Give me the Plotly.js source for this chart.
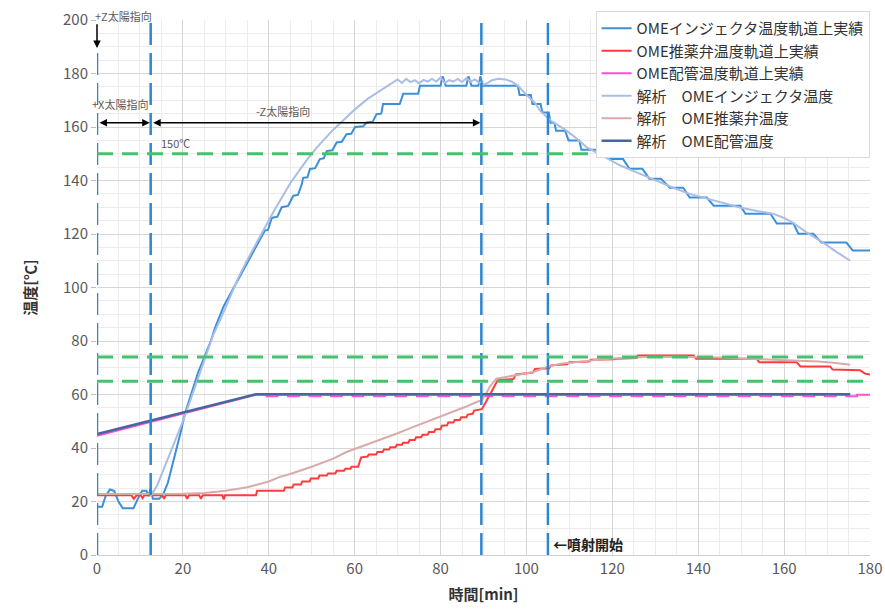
<!DOCTYPE html>
<html>
<head>
<meta charset="utf-8">
<script src="https://cdn.plot.ly/plotly-3.0.1.min.js"></script>
<style>html,body{margin:0;padding:0;background:#fff;}#chart{width:885px;height:614px;}</style>
</head>
<body>
<div id="chart"></div>
<script>
// ---- Series names ----
const seriesNames = [
  "OMEインジェクタ温度軌道上実績",
  "OME推薬弁温度軌道上実績",
  "OME配管温度軌道上実績",
  "解析　OMEインジェクタ温度",
  "解析　OME推薬弁温度",
  "解析　OME配管温度"
];

// ---- OME injector, flight data ----
const injActT = [0,1.2,2,3,4,5,6,8.5,9.5,10.5,11.5,12,12.5,13,14.5,15.5,16.5,17.5,18.5,19.5,20.5,21.5,22.5,23.5,24.5,25.5,26.5,27.5,28.5,29.5,30.5,31.5,32.5,33.5,34.5,35.5,36.5,37.5,38.5,39.1,39.8,40.7,42,43,44.5,45.7,46.8,47.7,48,49,49.6,50.8,51.9,52.8,53.5,54.8,55.8,57,58.1,59.2,60.1,62,62.8,64.2,65.1,66.2,66.6,70.5,71.3,74.8,75.2,80,80.5,81.2,86,86.5,87.2,88.8,89.3,89.8,98,98.4,101,101.4,103.3,103.7,105.2,105.6,106.5,106.9,109,109.8,112.3,112.8,116.3,117,119,119.4,122.5,124,127,128.6,131.3,133.4,136.5,138,142,143.6,149.8,151,156.8,158.3,162.2,163.3,166.8,168.7,174.5,176,180];
const injActV = [18,18,22,24.5,24,20,17.5,17.5,21,24,24,22,25,21,21,23,27,33,39,46,53,58,63,68,72,76,80,85,89,93,96,99,102,105,108,111,114,117,119.5,121.3,121.5,126,126.5,130,130.5,134.3,134.6,138.7,141,141.2,144.3,144.6,148,148.3,151,151.3,154.2,154.5,157.3,157.5,160,160.3,161.7,162,164.8,165,168.6,168.6,172.4,172.4,175.4,175.4,179,175.4,175.4,179,175.4,175.4,179,175.4,175.4,172,172,168.6,168.6,165.4,165.4,161.6,161.6,158.6,158.6,155,155,151.5,151.5,151,151,148,148,144.4,144.4,140.7,140.7,137.3,137.3,133.6,133.6,130.6,130.6,127.6,127.6,123.9,123.9,120.1,120.1,116.8,116.8,113.8,113.8];

// ---- OME propellant valve, flight data ----
const valveActT = [0,8,8.6,9.2,10.2,10.6,11,15.2,15.6,16,20.6,21,21.4,23.8,24.2,24.6,29.2,29.5,29.8,37,37.3,43.5,43.8,45.5,45.8,47.5,47.8,49.5,49.8,51.5,51.8,53.5,53.8,55.5,55.8,57.5,57.8,59,59.3,60.8,61.5,63,63.3,65,65.3,66.5,66.8,68,68.3,69.5,69.8,71,71.3,72.5,72.8,74,74.3,75.5,75.8,77,77.3,78.5,78.8,80,80.3,81.5,81.8,83,83.3,84.5,84.8,86,86.3,87.5,87.8,89.3,89.6,90.5,91.5,92.5,93.3,97,97.5,101.5,102,105.3,105.7,109.5,110,114.5,115,120.5,121,125.5,126,138.9,139.5,153.6,154.2,162.9,163.8,170.7,171.3,177.7,178.8,180];
const valveActV = [22.3,22.3,21,22.3,22.3,21.2,22.3,22.3,21,22.3,22.3,21,22.3,22.3,21,22.3,22.3,20.8,22.3,22.3,24,24,25.2,25.2,26.4,26.4,27.5,27.5,28.6,28.6,29.7,29.7,30.5,30.5,31.5,31.5,32.2,32.2,33,33,36.5,36.8,37.6,37.6,38.5,38.5,39.4,39.4,40.3,40.3,41.2,41.2,42,42,43,43,44,44,45,45,46,46,47,47,48.3,48.5,49.5,49.5,50.5,50.5,51.5,51.5,52.5,52.8,54,54.3,54.5,57,60,63,65.3,65.8,67.5,68.2,69.5,69.8,70.9,71.3,72.1,72.3,73,73.2,73.4,73.6,74.6,74.6,73.4,73.4,72.1,72.1,70.5,70.5,69.3,69.1,67.8,67.5];

// ---- OME piping, flight data ----
const pipeActT = [0,37,39.5,39.5,42,42,44.5,44.5,47,47,49.5,49.5,52,52,54.5,54.5,57,57,59.5,59.5,62,62,64.5,64.5,67,67,69.5,69.5,72,72,74.5,74.5,77,77,79.5,79.5,82,82,84.5,84.5,87,87,89.5,89.5,92,92,94.5,94.5,97,97,99.5,99.5,102,102,104.5,104.5,107,107,109.5,109.5,112,112,114.5,114.5,117,117,119.5,119.5,122,122,124.5,124.5,127,127,129.5,129.5,132,132,134.5,134.5,137,137,139.5,139.5,142,142,144.5,144.5,147,147,149.5,149.5,152,152,154.5,154.5,157,157,159.5,159.5,162,162,164.5,164.5,167,167,169.5,169.5,172,172,174.5,174.5,177,177,180];
const pipeActV = [44.6,59.9,59.9,59.3,59.3,59.9,59.9,59.3,59.3,59.9,59.9,59.3,59.3,59.9,59.9,59.3,59.3,59.9,59.9,59.3,59.3,59.9,59.9,59.3,59.3,59.9,59.9,59.3,59.3,59.9,59.9,59.3,59.3,59.9,59.9,59.3,59.3,59.9,59.9,59.3,59.3,59.9,59.9,59.3,59.3,59.9,59.9,59.3,59.3,59.9,59.9,59.3,59.3,59.9,59.9,59.3,59.3,59.9,59.9,59.3,59.3,59.9,59.9,59.3,59.3,59.9,59.9,59.3,59.3,59.9,59.9,59.3,59.3,59.9,59.9,59.3,59.3,59.9,59.9,59.3,59.3,59.9,59.9,59.3,59.3,59.9,59.9,59.3,59.3,59.9,59.9,59.3,59.3,59.9,59.9,59.3,59.3,59.9,59.9,59.3,59.3,59.9,59.9,59.3,59.3,59.9,59.9,59.3,59.3,59.9,59.9,59.3,59.3,59.9,59.9];

// ---- Analysis: injector ----
const injAnaT = [12.5,14,16,18,20,22,24,25.2,27,29,31.4,33,34.9,37,39.1,41,43.4,45,47,49,51,53,55,57,60,63,66,68,70,71,72,73,74,75,76,77,78,79,80,81,82,83,84,85,86,87,88,89,90,91,92,93.5,95,96.5,98,100,102,103.2,106,109,110.9,114,118.7,122,126.5,130,134.2,138,142,146,149.7,154,157.4,160,162,165.3,169.1,172,175.4];
const injAnaV = [22,26,34,42,50,59,68,74,82,89,97.7,104,110,116.5,122.4,128,134.5,139,143.5,148,152,155.5,159,162,166.5,170.5,173.5,175.8,177.8,176.5,178,176.8,177.5,176.3,177.6,177,178,177,178.5,176.5,177.5,177,178,176.8,178.2,177,177.8,176.5,175.8,176.5,177.5,178,177.8,177,175.5,172,169,166,162,159,156.7,152.5,148.5,145.5,142.5,140,137.3,135,133.2,131.5,129.9,128.5,127.6,126,124.3,120.5,116.8,113.5,110];

// ---- Analysis: propellant valve ----
const valveAnaT = [0,10,20,25,30,35,40,42.6,45,50,55,58.1,62,66,70,73.7,78,82,86,88.4,89.5,90.5,91.5,93,96,101.6,104.7,108,112.5,116.3,122,128,134,139.6,145,151.3,157,162.9,168,172,175.4];
const valveAnaV = [22.8,22.8,22.9,23.2,24,25.3,27.5,29.2,30.3,33,36,38.5,40.7,43.2,45.5,47.9,50.5,52.8,55.5,57.2,57.8,60,63,65.9,66.8,68.4,70.3,71.5,72.2,73,73.6,74,74.1,74,73.8,73.4,73.1,72.8,72.3,71.8,71.1];

// ---- Analysis: piping ----
const pipeAnaT = [0,37,175.4];
const pipeAnaV = [45.2,60.1,60.1];

// ---- Reference lines / annotations ----
const eventTimes = [0, 12.5, 89.5, 105];
const thresholds = [150, 74, 65];
const attitudeLabels = ["+Z太陽指向", "+X太陽指向", "-Z太陽指向"];
const thresholdLabel = "150℃";
const injectionLabel = "←噴射開始";

const xTitle = "時間[min]";
const yTitle = "温度[℃]";

const colors = ["#3D8FD8", "#FF3B3B", "#FF4FD8", "#A9BEE4", "#D9AAAA", "#46679E"];
const widths = [2, 2, 2, 2, 2, 2.5];
const seriesX = [injActT, valveActT, pipeActT, injAnaT, valveAnaT, pipeAnaT];
const seriesY = [injActV, valveActV, pipeActV, injAnaV, valveAnaV, pipeAnaV];

const traces = seriesNames.map((n, i) => ({
  type: "scatter", mode: "lines", name: n,
  x: seriesX[i], y: seriesY[i],
  line: {color: colors[i], width: widths[i]},
  hoverinfo: "skip"
}));

const shapes = [];
eventTimes.forEach((t, i) => {
  shapes.push({type: "line", xref: "x", yref: "y", x0: t, x1: t,
    y0: 0, y1: i === 0 ? 189 : 200,
    line: {color: "#2F86D0", width: 2.5, dash: "22px,8px"}, layer: "above"});
});
thresholds.forEach(v => {
  shapes.push({type: "line", xref: "x", yref: "y", x0: 0, x1: 180, y0: v, y1: v,
    line: {color: "#45C26E", width: 3, dash: "16px,9px"}, layer: "above"});
});

const small = {family: "Noto Sans CJK JP, sans-serif", size: 11, color: "#595959"};
const annotations = [
  {x: eventTimes[0], y: 1.008, xref: "x", yref: "paper", text: attitudeLabels[0], showarrow: false, xanchor: "left", yanchor: "middle", font: small, xshift: -4},
  {x: eventTimes[0], y: 189.5, xref: "x", yref: "y", ax: eventTimes[0], ay: 199, axref: "x", ayref: "y", text: "", showarrow: true, arrowhead: 2, arrowsize: 1, arrowwidth: 1.5, arrowcolor: "#000", standoff: 0, startstandoff: 0},
  {x: eventTimes[0], y: 168.5, xref: "x", yref: "y", text: attitudeLabels[1], showarrow: false, xanchor: "left", yanchor: "middle", font: small, xshift: -7},
  {x: 43.3, y: 165.8, xref: "x", yref: "y", text: attitudeLabels[2], showarrow: false, xanchor: "center", yanchor: "middle", font: small},
  {x: eventTimes[1] + 2, y: 150.3, xref: "x", yref: "y", text: thresholdLabel, showarrow: false, xanchor: "left", yanchor: "bottom", font: small},
  {x: eventTimes[3], y: 4, xref: "x", yref: "y", text: "<b>" + injectionLabel + "</b>", showarrow: false, xanchor: "left", yanchor: "middle", xshift: 3, font: {family: "Noto Sans CJK JP, sans-serif", size: 14, color: "#222"}}
];
// double arrows
[[eventTimes[0], eventTimes[1]], [eventTimes[1], eventTimes[2]]].forEach(([a, b]) => {
  const yv = 161.6;
  annotations.push({x: b, y: yv, ax: a, ay: yv, xref: "x", yref: "y", axref: "x", ayref: "y", text: "", showarrow: true, arrowhead: 2, arrowside: "end+start", arrowsize: 1, arrowwidth: 1.5, arrowcolor: "#000", standoff: 1, startstandoff: 1});
});

const layout = {
  width: 885, height: 614,
  margin: {l: 97, r: 15, t: 19, b: 59},
  paper_bgcolor: "#fff", plot_bgcolor: "#fff",
  font: {family: "Noto Sans CJK JP, sans-serif", color: "#404040"},
  showlegend: true,
  legend: {x: 0.645, y: 1.015, xanchor: "left", yanchor: "top", bgcolor: "#ffffff", bordercolor: "#d9d9d9", borderwidth: 1,
    font: {size: 15, color: "#333"}, itemwidth: 30, tracegroupgap: 0},
  xaxis: {range: [0, 180], tick0: 0, dtick: 20, showgrid: true, gridcolor: "#d6d6d6", gridwidth: 1,
    minor: {dtick: 5, showgrid: true, gridcolor: "#ececec"},
    zeroline: false, showline: true, linecolor: "#d0d0d0", ticks: "",
    tickfont: {size: 15, color: "#595959"},
    title: {text: "<b>" + xTitle + "</b>", font: {size: 15, color: "#333"}, standoff: 12}},
  yaxis: {range: [0, 200], tick0: 0, dtick: 20, showgrid: true, gridcolor: "#d6d6d6", gridwidth: 1,
    minor: {dtick: 5, showgrid: true, gridcolor: "#ececec"},
    zeroline: false, showline: false, ticks: "outside", ticklen: 5, tickcolor: "#bfbfbf",
    tickfont: {size: 15, color: "#595959"},
    title: {text: "<b>" + yTitle + "</b>", font: {size: 15, color: "#333"}, standoff: 22}},
  shapes: shapes,
  annotations: annotations
};

Plotly.newPlot("chart", traces, layout, {displayModeBar: false, staticPlot: true});
</script>
</body>
</html>
